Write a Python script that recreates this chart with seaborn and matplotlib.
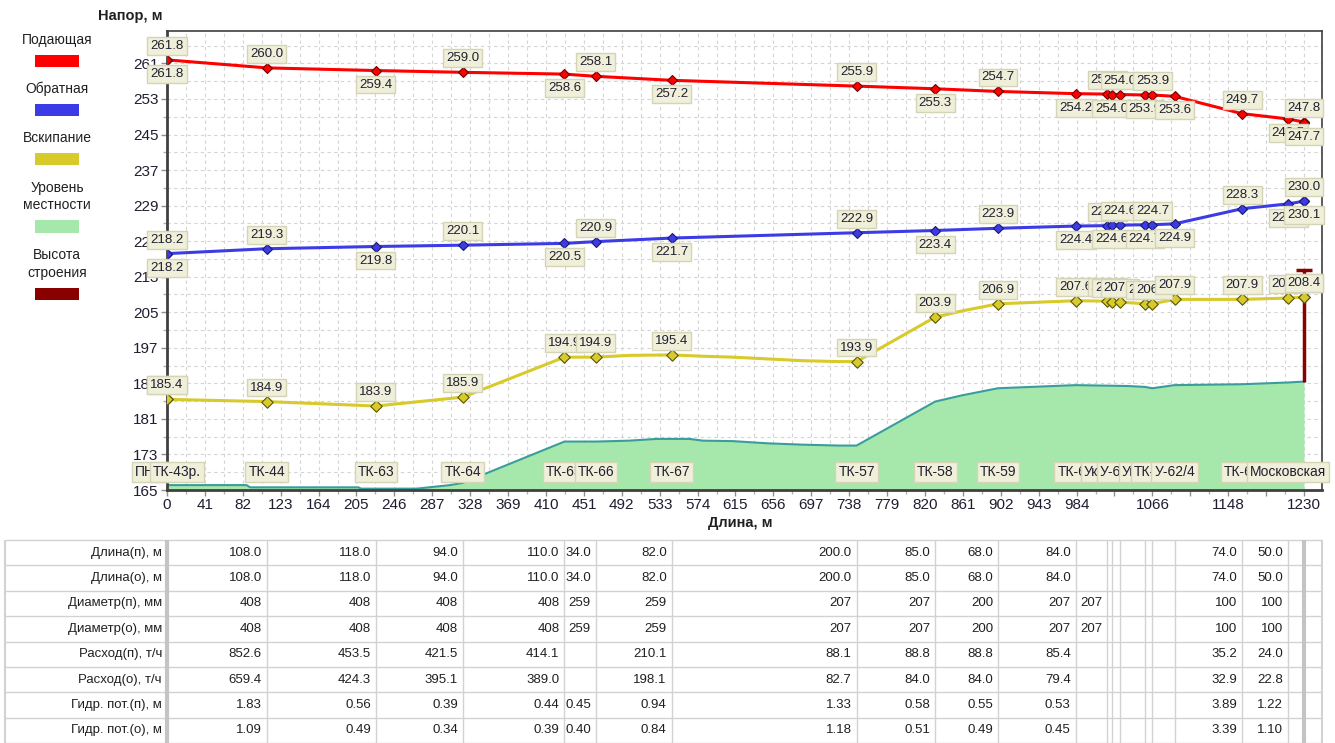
import matplotlib
matplotlib.use('Agg')
import matplotlib.pyplot as plt
from matplotlib.patches import Rectangle
import numpy as np
import seaborn as sns

# ================================================
# Пьезометрический график: ПНС -> Московская
# ================================================

# узлы (расстояние от начала, м)
node_x = [0, 0, 108, 226, 320, 430, 464, 546, 746, 831, 899, 983,
          1017, 1022, 1031, 1058, 1066, 1090, 1163, 1213, 1230, 1230]
node_names = ['ПНС', 'ТК-43р.', 'ТК-44', 'ТК-63', 'ТК-64', 'ТК-65', 'ТК-66',
              'ТК-67', 'ТК-57', 'ТК-58', 'ТК-59', 'ТК-60', 'Ук-62/1', '',
              'У-62/2', 'Ук-62/3', 'ТК-61', 'У-62/4', 'ТК-62', 'Московская',
              '', '']

# напоры, м
supply = [261.8, 261.8, 260.0, 259.4, 259.0, 258.6, 258.1, 257.2, 255.9,
          255.3, 254.7, 254.2, 254.1, 254.0, 254.0, 253.9, 253.9, 253.6,
          249.7, 248.5, 247.8, 247.7]
ret = [218.2, 218.2, 219.3, 219.8, 220.1, 220.5, 220.9, 221.7, 222.9,
       223.4, 223.9, 224.4, 224.5, 224.6, 224.6, 224.7, 224.7, 224.9,
       228.3, 229.4, 230.0, 230.1]
boil = [185.4, 185.4, 184.9, 183.9, 185.9, 194.9, 194.9, 195.4, 193.9,
        203.9, 206.9, 207.6, 207.5, 207.3, 207.3, 206.9, 206.9, 207.9,
        207.9, 208.2, 208.4, 208.4]

# линия вскипания с промежуточными точками
boil_line_x = [0, 108, 226, 320, 430, 464, 500, 546, 580, 612, 650, 688,
               727, 746, 831, 860, 899, 983, 1017, 1022, 1031, 1058, 1066,
               1090, 1163, 1213, 1230]
boil_line_y = [185.4, 184.9, 183.9, 185.9, 194.9, 194.9, 195.3, 195.4,
               195.1, 194.9, 194.5, 194.1, 193.9, 193.9, 203.9, 205.3,
               206.9, 207.6, 207.5, 207.3, 207.3, 206.9, 206.9, 207.9,
               207.9, 208.2, 208.4]

# уровень местности
terrain_x = [0, 86, 90, 207, 210, 270, 306, 320, 430, 464, 500, 530, 565,
             580, 612, 650, 688, 727, 746, 831, 860, 899, 983, 1040, 1058,
             1066, 1090, 1163, 1213, 1230]
terrain_y = [166.1, 166.1, 165.6, 165.6, 165.3, 165.3, 166.1, 166.6, 175.9,
             175.9, 176.1, 176.5, 176.5, 176.1, 176.0, 175.5, 175.2, 175.0,
             175.0, 184.9, 186.3, 187.9, 188.6, 188.4, 188.2, 187.9, 188.6,
             188.8, 189.2, 189.4]

# высота строения (конечный потребитель)
building_x = 1230
building_bottom = 189.4
building_top = 214.4

# оси
y_min, y_max = 165, 268.3
x_max = 1249.5
x_ticks = list(range(0, 1231, 41))
x_tick_labels = [str(t) if t not in (1025, 1107, 1189) else '' for t in x_ticks]
y_ticks = list(range(165, 262, 8))

# таблица (значения по участкам, конец участка в м)
seg_end = [108, 226, 320, 430, 464, 546, 746, 831, 899, 983, 1017, 1163, 1213]
len_p = [108.0, 118.0, 94.0, 110.0, 34.0, 82.0, 200.0, 85.0, 68.0, 84.0, None, 74.0, 50.0]
len_o = [108.0, 118.0, 94.0, 110.0, 34.0, 82.0, 200.0, 85.0, 68.0, 84.0, None, 74.0, 50.0]
diam_p = [408, 408, 408, 408, 259, 259, 207, 207, 200, 207, 207, 100, 100]
diam_o = [408, 408, 408, 408, 259, 259, 207, 207, 200, 207, 207, 100, 100]
flow_p = [852.6, 453.5, 421.5, 414.1, None, 210.1, 88.1, 88.8, 88.8, 85.4, None, 35.2, 24.0]
flow_o = [659.4, 424.3, 395.1, 389.0, None, 198.1, 82.7, 84.0, 84.0, 79.4, None, 32.9, 22.8]
loss_p = [1.83, 0.56, 0.39, 0.44, 0.45, 0.94, 1.33, 0.58, 0.55, 0.53, None, 3.89, 1.22]
loss_o = [1.09, 0.49, 0.34, 0.39, 0.40, 0.84, 1.18, 0.51, 0.49, 0.45, None, 3.39, 1.10]
row_names = ['Длина(п), м', 'Длина(о), м', 'Диаметр(п), мм', 'Диаметр(о), мм',
             'Расход(п), т/ч', 'Расход(о), т/ч', 'Гидр. пот.(п), м', 'Гидр. пот.(о), м']
row_data = [len_p, len_o, diam_p, diam_o, flow_p, flow_o, loss_p, loss_o]
row_fmt = ['{:.1f}', '{:.1f}', '{:d}', '{:d}', '{:.1f}', '{:.1f}', '{:.2f}', '{:.2f}']

legend_labels = ['Подающая', 'Обратная', 'Вскипание', 'Уровень\nместности', 'Высота\nстроения']

# цвета
RED = '#FF0000'
BLUE = '#3C3CE6'
YELLOW = '#D8CA2A'
GREEN = '#A6E8AC'
TEAL = '#3A9C9C'
DARKRED = '#880000'
legend_colors = [RED, BLUE, YELLOW, GREEN, DARKRED]

sns.set_theme(style='white')
plt.rcParams['font.family'] = ['Liberation Sans', 'DejaVu Sans']

W, H = 1335, 743
fig = plt.figure(figsize=(W / 100, H / 100), dpi=100)
ax = fig.add_axes([167 / W, 1 - 490 / H, (1322 - 167) / W, (490 - 31) / H])

# местность
ax.fill_between(terrain_x, terrain_y, y_min, color=GREEN, lw=0, zorder=1)
sns.lineplot(x=terrain_x, y=terrain_y, estimator=None, sort=False, color=TEAL,
             linewidth=1.5, ax=ax, zorder=2, legend=False)

# строение
ax.vlines(building_x, building_bottom, building_top, color=DARKRED, lw=2.5, zorder=3)
ax.plot([building_x], [building_top], marker='_', markersize=12, mew=2.5,
        color=DARKRED, zorder=3)

# линии напоров
sns.lineplot(x=node_x, y=supply, estimator=None, sort=False, color=RED,
             linewidth=2.2, marker='D', markersize=5.5, markeredgecolor='#700000',
             markeredgewidth=0.8, ax=ax, zorder=4, legend=False)
sns.lineplot(x=node_x, y=ret, estimator=None, sort=False, color=BLUE,
             linewidth=2.2, marker='D', markersize=5.5, markeredgecolor='#1A1A70',
             markeredgewidth=0.8, ax=ax, zorder=4, legend=False)
sns.lineplot(x=boil_line_x, y=boil_line_y, estimator=None, sort=False,
             color=YELLOW, linewidth=2.2, ax=ax, zorder=4, legend=False)
sns.scatterplot(x=node_x, y=boil, marker='D', s=34, color=YELLOW,
                edgecolor='#55550A', linewidth=0.8, ax=ax, zorder=5, legend=False)

# подписи значений
box = dict(boxstyle='square,pad=0.22', fc='#F0EFD9', ec='#D6D4B6', lw=1)
for i, (x, v) in enumerate(zip(node_x, supply)):
    dy = 14 if i % 2 == 0 else -14
    ax.annotate(f'{v:.1f}', (x, v), xytext=(0, dy), textcoords='offset pixels',
                ha='center', va='center', fontsize=9.5, color='#202030', bbox=box, zorder=6)
for i, (x, v) in enumerate(zip(node_x, ret)):
    dy = 14 if i % 2 == 0 else -14
    ax.annotate(f'{v:.1f}', (x, v), xytext=(0, dy), textcoords='offset pixels',
                ha='center', va='center', fontsize=9.5, color='#202030', bbox=box, zorder=6)
for x, v in zip(node_x, boil):
    ax.annotate(f'{v:.1f}', (x, v), xytext=(0, 14), textcoords='offset pixels',
                ha='center', va='center', fontsize=9.5, color='#202030', bbox=box, zorder=6)

# названия узлов
name_shift = {0: -17, 1: 10}
for i, (x, name) in enumerate(zip(node_x, node_names)):
    if not name:
        continue
    ax.annotate(name, (x, y_min), xytext=(name_shift.get(i, 0), 18),
                textcoords='offset pixels', ha='center', va='center',
                fontsize=10, color='#202030', bbox=box, zorder=6)

# оси и сетка
ax.set_xlim(0, x_max)
ax.set_ylim(y_min, y_max)
ax.set_xticks(x_ticks)
ax.set_xticklabels(x_tick_labels)
ax.set_xticks(np.arange(0, x_max, 20.5), minor=True)
ax.set_yticks(y_ticks)
ax.set_yticks(np.arange(y_min, y_max, 4), minor=True)
ax.grid(which='both', color='#D4D4D4', linestyle=(0, (3, 3)), linewidth=0.8, zorder=0)
ax.set_axisbelow(True)
ax.tick_params(axis='both', which='major', labelsize=11, labelcolor='#1E1E30',
               length=4, width=1, color='#909090', direction='out', pad=2)
ax.tick_params(axis='both', which='minor', length=3, width=1, color='#B0B0B0',
               direction='out')
ax.tick_params(axis='x', bottom=True, which='both')
ax.tick_params(axis='y', left=True, which='both')
for side in ['left', 'bottom']:
    ax.spines[side].set_color('#404040')
    ax.spines[side].set_linewidth(2)
for side in ['top', 'right']:
    ax.spines[side].set_color('#404040')
    ax.spines[side].set_linewidth(1.2)
ax.set_xlabel('')
ax.set_ylabel('')

fig.text(130 / W, 1 - 16 / H, 'Напор, м', ha='center', va='center',
         fontsize=10.5, fontweight='bold', color='#202020')
fig.text(740 / W, 1 - 523 / H, 'Длина, м', ha='center', va='center',
         fontsize=10.5, fontweight='bold', color='#202020')

# легенда слева
rect_y = 61
for k, (lab, col) in enumerate(zip(legend_labels, legend_colors)):
    n_lines = lab.count('\n') + 1
    if k > 0:
        rect_y += 49 + 18.5 * (n_lines - 1)
    text_y = rect_y - 21 - 9 * (n_lines - 1)
    fig.text(57 / W, 1 - text_y / H, lab, ha='center', va='center', fontsize=10,
             color='#202020', linespacing=1.3)
    fig.add_artist(Rectangle((35 / W, 1 - (rect_y + 6) / H), 44 / W, 12 / H,
                             transform=fig.transFigure, facecolor=col,
                             edgecolor='none'))

# таблица
x_left = -162 / 0.9244
ax_t = fig.add_axes([5 / W, 0, (1322 - 5) / W, (743 - 540) / H])
ax_t.set_xlim(x_left, x_max)
ax_t.set_ylim(8, 0)
ax_t.set_axis_off()

col_edges = sorted(set(node_x))
grid_col = '#D2D2D2'
for r in range(9):
    ax_t.hlines(r, x_left, x_max, color=grid_col, lw=1, clip_on=False)
for xe in col_edges[1:]:
    ax_t.vlines(xe, 0, 8, color=grid_col, lw=1, clip_on=False)
ax_t.vlines(0, 0, 8, color='#C4C4C4', lw=3, clip_on=False)
ax_t.vlines(col_edges[-1], 0, 8, color='#C4C4C4', lw=3, clip_on=False)
ax_t.vlines([x_left, x_max], 0, 8, color=grid_col, lw=1.5, clip_on=False)

for r, (name, vals, fmt) in enumerate(zip(row_names, row_data, row_fmt)):
    ax_t.annotate(name, (0, r + 0.5), xytext=(-5, 0), textcoords='offset pixels',
                  ha='right', va='center', fontsize=9.5, color='#202020')
    for xe, v in zip(seg_end, vals):
        if v is None:
            continue
        ax_t.annotate(fmt.format(v), (xe, r + 0.5), xytext=(-5, 0),
                      textcoords='offset pixels', ha='right', va='center',
                      fontsize=9.5, color='#202020')

fig.savefig('out.png', dpi=100)
